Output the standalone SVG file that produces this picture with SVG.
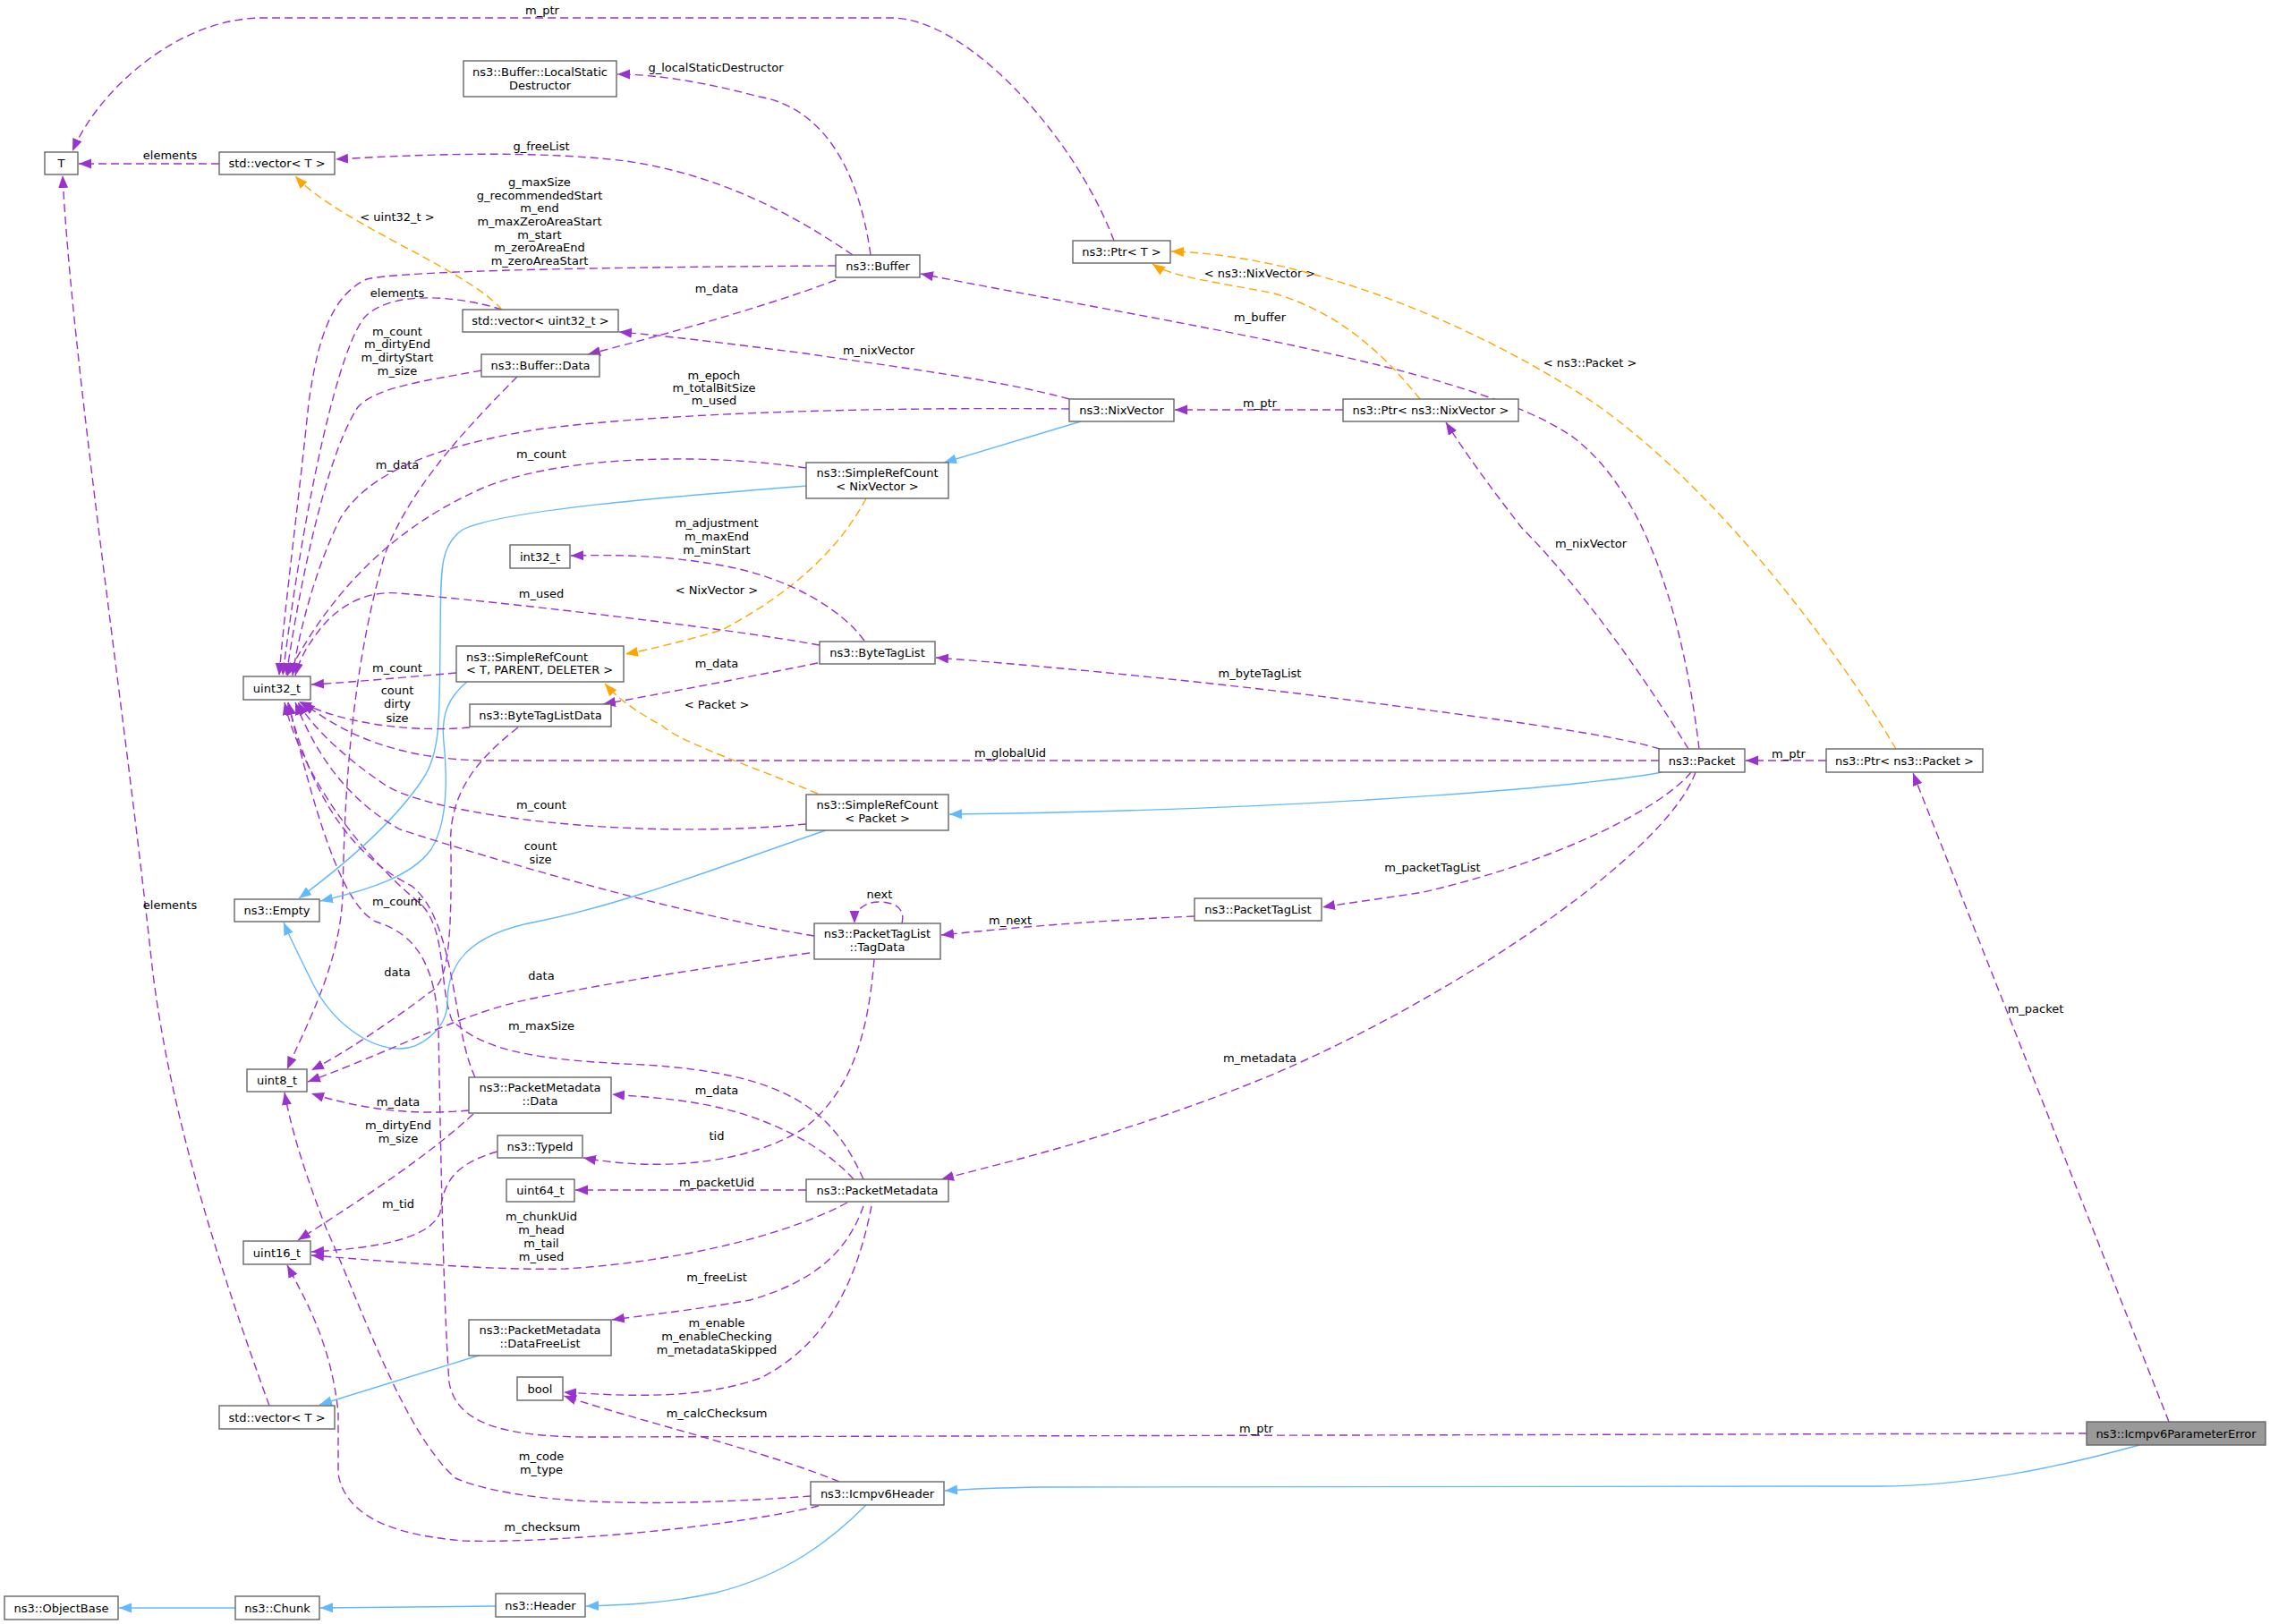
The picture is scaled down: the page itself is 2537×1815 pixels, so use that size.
<svg xmlns="http://www.w3.org/2000/svg" width="2537" height="1815" viewBox="0 0 2537 1815">
<style>
text{font-family:"DejaVu Sans","Liberation Sans",sans-serif;font-size:13px;fill:#000}
.c{text-anchor:middle}
.n rect{fill:#fff;stroke:#666;stroke-width:1.4}
.n.hl rect{fill:#999}
.p{fill:none;stroke:#9a32cd;stroke-width:1.4;stroke-dasharray:9,5;marker-end:url(#ap)}
.o{fill:none;stroke:#ffa500;stroke-width:1.4;stroke-dasharray:9,5;marker-end:url(#ao)}
.b{fill:none;stroke:#63b8ff;stroke-width:1.4;marker-end:url(#ab)}
</style>
<defs>
<marker id="ap" markerUnits="userSpaceOnUse" markerWidth="15" markerHeight="12" refX="14" refY="5.5" orient="auto"><path d="M0,0L14,5.5L0,11z" fill="#9a32cd"/></marker>
<marker id="ao" markerUnits="userSpaceOnUse" markerWidth="15" markerHeight="12" refX="14" refY="5.5" orient="auto"><path d="M0,0L14,5.5L0,11z" fill="#ffa500"/></marker>
<marker id="ab" markerUnits="userSpaceOnUse" markerWidth="15" markerHeight="12" refX="14" refY="5.5" orient="auto"><path d="M0,0L14,5.5L0,11z" fill="#63b8ff"/></marker>
</defs>
<rect width="2537" height="1815" fill="#fff"/>
<g id="edges">
<path class="p" d="M1245,269 C1200,150 1080,20 996,20 L293,20 C200,20 110,100 81,169"/>
<text class="c" x="606" y="16">m_ptr</text>
<path class="p" d="M245,183 L88,183"/>
<text class="c" x="190" y="178">elements</text>
<path class="p" d="M973,285 C960,190 920,120 848,108 C800,95 740,83 690,83"/>
<text class="c" x="800" y="80">g_localStaticDestructor</text>
<path class="p" d="M953,285 C880,235 800,195 700,180 C600,168 480,172 375,178"/>
<text class="c" x="605" y="168">g_freeList</text>
<path class="p" d="M934,297 C800,298 460,300 410,312 C370,330 355,380 345,450 C335,550 318,680 312,755"/>
<text class="c" x="603" y="208">g_maxSize</text>
<text class="c" x="603" y="223">g_recommendedStart</text>
<text class="c" x="603" y="237">m_end</text>
<text class="c" x="603" y="252">m_maxZeroAreaStart</text>
<text class="c" x="603" y="267">m_start</text>
<text class="c" x="603" y="281">m_zeroAreaEnd</text>
<text class="c" x="603" y="296">m_zeroAreaStart</text>
<path class="p" d="M934,313 C850,345 720,380 657,396"/>
<text class="c" x="801" y="327">m_data</text>
<path class="p" d="M561,346 C510,330 440,325 410,352 C380,380 340,560 316,755"/>
<text class="c" x="444" y="332">elements</text>
<path class="o" d="M561,346 C520,300 380,250 330,197"/>
<text class="c" x="444" y="247">&lt; uint32_t &gt;</text>
<path class="p" d="M538,414 C480,425 420,432 400,455 C370,500 340,620 320,755"/>
<text class="c" x="444" y="375">m_count</text>
<text class="c" x="444" y="389">m_dirtyEnd</text>
<text class="c" x="444" y="404">m_dirtyStart</text>
<text class="c" x="444" y="419">m_size</text>
<path class="p" d="M578,421 C530,470 460,540 430,620 C390,760 385,900 383,1000 C380,1080 340,1150 321,1195"/>
<text class="c" x="444" y="524">m_data</text>
<path class="p" d="M1195,457 C1000,455 750,460 600,480 C480,500 410,530 380,580 C355,630 335,700 327,755"/>
<text class="c" x="798" y="424">m_epoch</text>
<text class="c" x="798" y="438">m_totalBitSize</text>
<text class="c" x="798" y="452">m_used</text>
<path class="p" d="M1195,446 C1120,425 1000,410 900,395 C800,382 740,375 692,371"/>
<text class="c" x="982" y="396">m_nixVector</text>
<path class="b" d="M1208,471 L1055,517"/>
<path class="p" d="M1501,458 L1313,458"/>
<text class="c" x="1408" y="455">m_ptr</text>
<path class="o" d="M1587,446 C1550,400 1500,350 1424,328 C1360,315 1310,310 1288,295"/>
<text class="c" x="1408" y="310">&lt; ns3::NixVector &gt;</text>
<path class="o" d="M2119,837 C2050,720 1900,520 1753,432 C1620,350 1450,285 1309,281"/>
<text class="c" x="1777" y="410">&lt; ns3::Packet &gt;</text>
<path class="p" d="M1899,837 C1885,720 1850,560 1760,490 C1650,410 1300,360 1029,306"/>
<text class="c" x="1408" y="359">m_buffer</text>
<path class="p" d="M1887,837 C1840,760 1770,660 1700,589 C1670,550 1640,510 1616,472"/>
<text class="c" x="1778" y="612">m_nixVector</text>
<path class="p" d="M1855,837 C1800,820 1650,800 1450,775 C1300,757 1150,743 1046,735"/>
<text class="c" x="1408" y="757">m_byteTagList</text>
<path class="p" d="M1854,850 L540,850 C450,848 390,825 338,785"/>
<text class="c" x="1129" y="846">m_globalUid</text>
<path class="b" d="M1857,863 C1800,875 1500,905 1061,910"/>
<path class="p" d="M1890,863 C1860,900 1750,960 1591,997 C1540,1005 1500,1010 1478,1014"/>
<text class="c" x="1601" y="974">m_packetTagList</text>
<path class="p" d="M1895,863 C1860,960 1600,1130 1400,1210 C1250,1270 1120,1300 1052,1318"/>
<text class="c" x="1408" y="1187">m_metadata</text>
<path class="p" d="M2041,850 L1951,850"/>
<text class="c" x="1999" y="847">m_ptr</text>
<path class="p" d="M2424,1589 L2138,864"/>
<text class="c" x="2275" y="1132">m_packet</text>
<path class="p" d="M2332,1602 L660,1606 C560,1606 510,1590 502,1545 C495,1450 492,1250 490,1150 C487,1060 450,1040 420,1030 C380,1010 350,900 322,785"/>
<text class="c" x="1404" y="1601">m_ptr</text>
<path class="b" d="M2391,1615 C2300,1640 2200,1661 2100,1661 L1165,1662 C1100,1663 1070,1665 1056,1666"/>
<path class="b" d="M968,1682 C930,1720 880,1760 800,1780 C740,1793 690,1794 655,1795"/>
<path class="b" d="M554,1795 L358,1797"/>
<path class="b" d="M263,1797 L133,1797"/>
<path class="p" d="M938,1656 C850,1620 720,1590 630,1560"/>
<text class="c" x="801" y="1584">m_calcChecksum</text>
<path class="p" d="M906,1672 C800,1680 600,1690 509,1652 C450,1600 400,1450 365,1374 C340,1310 325,1260 318,1221"/>
<text class="c" x="605" y="1632">m_code</text>
<text class="c" x="605" y="1647">m_type</text>
<path class="p" d="M915,1683 C800,1710 600,1725 518,1722 C430,1715 385,1690 378,1647 L378,1579 C370,1500 340,1450 321,1414"/>
<text class="c" x="606" y="1711">m_checksum</text>
<path class="p" d="M301,1571 C250,1430 190,1250 170,1080 C140,800 80,400 70,196"/>
<text class="c" x="190" y="1016">elements</text>
<path class="b" d="M538,1514 L357,1570"/>
<path class="p" d="M954,1318 C920,1280 860,1250 800,1237 C760,1228 720,1226 684,1223"/>
<text class="c" x="801" y="1223">m_data</text>
<path class="p" d="M977,1072 C970,1160 950,1220 900,1260 C840,1300 740,1310 652,1294"/>
<text class="c" x="801" y="1274">tid</text>
<path class="p" d="M901,1330 L643,1330"/>
<text class="c" x="801" y="1326">m_packetUid</text>
<path class="p" d="M947,1344 C880,1380 760,1410 632,1418 C550,1420 450,1411 348,1403"/>
<text class="c" x="605" y="1364">m_chunkUid</text>
<text class="c" x="605" y="1379">m_head</text>
<text class="c" x="605" y="1394">m_tail</text>
<text class="c" x="605" y="1409">m_used</text>
<path class="p" d="M965,1348 C950,1390 920,1430 838,1453 C770,1465 720,1470 684,1475"/>
<text class="c" x="801" y="1432">m_freeList</text>
<path class="p" d="M974,1348 C960,1420 930,1500 850,1540 C780,1565 700,1560 630,1556"/>
<text class="c" x="801" y="1483">m_enable</text>
<text class="c" x="801" y="1498">m_enableChecking</text>
<text class="c" x="801" y="1513">m_metadataSkipped</text>
<path class="p" d="M965,1318 C930,1240 880,1200 720,1190 C600,1185 540,1175 505,1140 C490,1100 500,1040 470,1010 C420,970 340,880 318,785"/>
<text class="c" x="605" y="1151">m_maxSize</text>
<path class="p" d="M901,523 C780,505 620,510 536,547 C440,590 370,660 321,755"/>
<text class="c" x="605" y="512">m_count</text>
<path class="o" d="M968,557 C940,610 890,660 807,704 C770,715 730,725 699,731"/>
<text class="c" x="801" y="664">&lt; NixVector &gt;</text>
<path class="b" d="M901,543 C750,555 560,570 517,592 C490,610 493,640 492,713 C491,800 493,840 473,870 C440,920 380,970 334,1004"/>
<path class="p" d="M510,752 C450,757 400,762 348,765"/>
<text class="c" x="444" y="751">m_count</text>
<path class="b" d="M522,762 C500,780 493,800 496,830 C500,870 500,920 482,949 C460,980 410,995 358,1007"/>
<path class="p" d="M966,716 C940,680 880,645 807,632 C740,620 690,620 638,621"/>
<text class="c" x="801" y="589">m_adjustment</text>
<text class="c" x="801" y="604">m_maxEnd</text>
<text class="c" x="801" y="619">m_minStart</text>
<path class="p" d="M916,721 C800,700 550,672 446,663 C410,660 380,675 357,704 C345,720 335,735 330,755"/>
<text class="c" x="605" y="668">m_used</text>
<path class="p" d="M914,741 C820,760 740,775 674,787"/>
<text class="c" x="801" y="746">m_data</text>
<path class="p" d="M525,813 C470,818 390,812 334,784"/>
<text class="c" x="444" y="776">count</text>
<text class="c" x="444" y="791">dirty</text>
<text class="c" x="444" y="807">size</text>
<path class="p" d="M579,813 C530,851 500,890 504,950 C505,1060 500,1100 479,1110 C440,1140 380,1180 348,1196"/>
<text class="c" x="444" y="1091">data</text>
<path class="p" d="M901,921 C700,940 480,910 430,877 C390,850 350,815 333,785"/>
<text class="c" x="605" y="904">m_count</text>
<path class="o" d="M914,887 C850,860 760,830 740,811 C710,795 690,780 676,764"/>
<text class="c" x="801" y="792">&lt; Packet &gt;</text>
<path class="b" d="M923,928 C800,970 700,1010 600,1030 C520,1045 500,1080 500,1120 C500,1150 470,1172 447,1172 C410,1172 370,1140 350,1100 C335,1070 325,1050 317,1031"/>
<path class="p" d="M1335,1024 C1200,1030 1100,1040 1052,1045"/>
<text class="c" x="1129" y="1033">m_next</text>
<path class="p" d="M1008,1032 C1012,1015 1000,1008 982,1008 C965,1008 955,1018 955,1032"/>
<text class="c" x="983" y="1004">next</text>
<path class="p" d="M910,1046 C750,1020 550,960 447,927 C400,900 360,860 330,785"/>
<text class="c" x="604" y="950">count</text>
<text class="c" x="604" y="965">size</text>
<path class="p" d="M905,1065 C800,1080 700,1095 600,1115 C520,1130 450,1170 344,1209"/>
<text class="c" x="605" y="1095">data</text>
<path class="p" d="M524,1241 C480,1245 420,1245 348,1222"/>
<text class="c" x="445" y="1236">m_data</text>
<path class="p" d="M529,1245 C480,1290 420,1330 333,1386"/>
<text class="c" x="445" y="1262">m_dirtyEnd</text>
<text class="c" x="445" y="1277">m_size</text>
<path class="p" d="M556,1287 C510,1300 495,1320 492,1355 C480,1385 420,1395 348,1399"/>
<text class="c" x="445" y="1350">m_tid</text>
<path class="p" d="M531,1204 C505,1150 510,1030 460,990 C400,960 350,900 322,785"/>
<text class="c" x="444" y="1012">m_count</text>
</g>
<g id="n-T" class="n"><rect x="50" y="170" width="37" height="25"/><text class="c" x="68.5" y="187">T</text></g>
<g id="n-vecT1" class="n"><rect x="245" y="170" width="129" height="25"/><text class="c" x="309.5" y="187">std::vector&lt; T &gt;</text></g>
<g id="n-LocalStatic" class="n"><rect x="518" y="68" width="171" height="40"/><text class="c" x="603.5" y="85">ns3::Buffer::LocalStatic</text><text class="c" x="603.5" y="100">Destructor</text></g>
<g id="n-Buffer" class="n"><rect x="934" y="285" width="94" height="25"/><text class="c" x="981" y="302">ns3::Buffer</text></g>
<g id="n-PtrT" class="n"><rect x="1199" y="269" width="109" height="25"/><text class="c" x="1253.5" y="286">ns3::Ptr&lt; T &gt;</text></g>
<g id="n-vecU32" class="n"><rect x="517" y="346" width="174" height="25"/><text class="c" x="604" y="363">std::vector&lt; uint32_t &gt;</text></g>
<g id="n-BufferData" class="n"><rect x="538" y="396" width="132" height="25"/><text class="c" x="604" y="413">ns3::Buffer::Data</text></g>
<g id="n-NixVector" class="n"><rect x="1195" y="446" width="117" height="25"/><text class="c" x="1253.5" y="463">ns3::NixVector</text></g>
<g id="n-PtrNix" class="n"><rect x="1501" y="446" width="196" height="25"/><text class="c" x="1599" y="463">ns3::Ptr&lt; ns3::NixVector &gt;</text></g>
<g id="n-SRCNix" class="n"><rect x="901" y="517" width="159" height="40"/><text class="c" x="980.5" y="533">ns3::SimpleRefCount</text><text class="c" x="980.5" y="548">&lt; NixVector &gt;</text></g>
<g id="n-int32" class="n"><rect x="570" y="609" width="67" height="26"/><text class="c" x="603.5" y="626.5">int32_t</text></g>
<g id="n-uint32" class="n"><rect x="272" y="756" width="75" height="26"/><text class="c" x="309.5" y="773.5">uint32_t</text></g>
<g id="n-SRCT" class="n"><rect x="510" y="722" width="187" height="40"/><text x="521" y="739">ns3::SimpleRefCount</text><text x="521" y="753">&lt; T, PARENT, DELETER &gt;</text></g>
<g id="n-ByteTagList" class="n"><rect x="916" y="717" width="129" height="25"/><text class="c" x="980.5" y="734">ns3::ByteTagList</text></g>
<g id="n-ByteTagListData" class="n"><rect x="525" y="787" width="158" height="25"/><text class="c" x="604" y="804">ns3::ByteTagListData</text></g>
<g id="n-Packet" class="n"><rect x="1854" y="837" width="96" height="26"/><text class="c" x="1902" y="854.5">ns3::Packet</text></g>
<g id="n-PtrPacket" class="n"><rect x="2041" y="837" width="175" height="26"/><text class="c" x="2128.5" y="854.5">ns3::Ptr&lt; ns3::Packet &gt;</text></g>
<g id="n-SRCPacket" class="n"><rect x="901" y="888" width="159" height="40"/><text class="c" x="980.5" y="904">ns3::SimpleRefCount</text><text class="c" x="980.5" y="919">&lt; Packet &gt;</text></g>
<g id="n-Empty" class="n"><rect x="262" y="1005" width="95" height="25"/><text class="c" x="309.5" y="1022">ns3::Empty</text></g>
<g id="n-PacketTagList" class="n"><rect x="1335" y="1004" width="142" height="25"/><text class="c" x="1406" y="1021">ns3::PacketTagList</text></g>
<g id="n-TagData" class="n"><rect x="910" y="1032" width="141" height="40"/><text class="c" x="980.5" y="1047.5">ns3::PacketTagList</text><text class="c" x="980.5" y="1063">::TagData</text></g>
<g id="n-uint8" class="n"><rect x="276" y="1195" width="67" height="25"/><text class="c" x="309.5" y="1212">uint8_t</text></g>
<g id="n-PMData" class="n"><rect x="524" y="1204" width="159" height="40"/><text class="c" x="603.5" y="1220">ns3::PacketMetadata</text><text class="c" x="603.5" y="1235">::Data</text></g>
<g id="n-TypeId" class="n"><rect x="556" y="1269" width="95" height="25"/><text class="c" x="603.5" y="1286">ns3::TypeId</text></g>
<g id="n-uint64" class="n"><rect x="566" y="1318" width="76" height="25"/><text class="c" x="604" y="1335">uint64_t</text></g>
<g id="n-PacketMetadata" class="n"><rect x="901" y="1318" width="159" height="25"/><text class="c" x="980.5" y="1335">ns3::PacketMetadata</text></g>
<g id="n-uint16" class="n"><rect x="272" y="1387" width="75" height="26"/><text class="c" x="309.5" y="1404.5">uint16_t</text></g>
<g id="n-DataFreeList" class="n"><rect x="524" y="1475" width="159" height="40"/><text class="c" x="603.5" y="1491">ns3::PacketMetadata</text><text class="c" x="603.5" y="1505.5">::DataFreeList</text></g>
<g id="n-bool" class="n"><rect x="578" y="1539" width="51" height="26"/><text class="c" x="603.5" y="1556.5">bool</text></g>
<g id="n-vecT2" class="n"><rect x="245" y="1571" width="129" height="26"/><text class="c" x="309.5" y="1588.5">std::vector&lt; T &gt;</text></g>
<g id="n-ParamError" class="n hl"><rect x="2332" y="1589" width="200" height="26"/><text class="c" x="2432" y="1606.5">ns3::Icmpv6ParameterError</text></g>
<g id="n-Icmpv6Header" class="n"><rect x="906" y="1656" width="149" height="26"/><text class="c" x="980.5" y="1673.5">ns3::Icmpv6Header</text></g>
<g id="n-ObjectBase" class="n"><rect x="5" y="1784" width="127" height="26"/><text class="c" x="68.5" y="1801.5">ns3::ObjectBase</text></g>
<g id="n-Chunk" class="n"><rect x="263" y="1784" width="94" height="26"/><text class="c" x="310" y="1801.5">ns3::Chunk</text></g>
<g id="n-Header" class="n"><rect x="554" y="1781" width="100" height="26"/><text class="c" x="604" y="1798.5">ns3::Header</text></g>
</svg>
